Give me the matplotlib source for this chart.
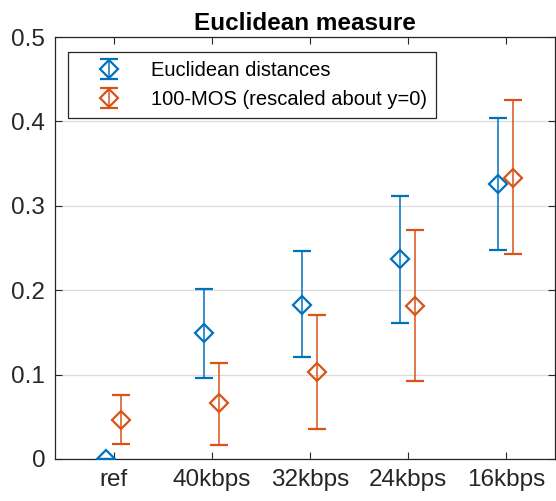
import matplotlib.pyplot as plt
import numpy as np

plt.rcParams['font.family'] = ['Liberation Sans', 'DejaVu Sans']

labels = ['ref', '40kbps', '32kbps', '24kbps', '16kbps']

eucl_mean = [0.0, 0.149, 0.182, 0.237, 0.326]
eucl_low = [0.0, 0.096, 0.121, 0.161, 0.248]
eucl_high = [0.0, 0.201, 0.246, 0.312, 0.404]

mos_mean = [0.046, 0.066, 0.103, 0.181, 0.333]
mos_low = [0.018, 0.017, 0.036, 0.092, 0.243]
mos_high = [0.076, 0.114, 0.170, 0.271, 0.425]

blue = '#0072BD'
orange = '#D95319'
axcol = '#262626'

x = np.arange(1, len(labels) + 1)

fig = plt.figure(figsize=(5.56, 5.01), dpi=100)
ax = fig.add_axes([0.099, 0.084, 0.899, 0.842])

def draw(xs, mean, low, high, color, label):
    mean = np.array(mean)
    err = [mean - np.array(low), np.array(high) - mean]
    return ax.errorbar(xs, mean, yerr=err, fmt='D', color=color, mfc='none',
                       mec=color, mew=1.6, ms=9, elinewidth=1.1, capsize=6.5,
                       capthick=1.6, label=label, zorder=3)

draw(x - 0.08, eucl_mean, eucl_low, eucl_high, blue, 'Euclidean distances')
draw(x + 0.07, mos_mean, mos_low, mos_high, orange, '100-MOS (rescaled about y=0)')

ax.set_xlim(0.4, 5.5)
ax.set_ylim(0, 0.5)
ax.set_xticks(x)
ax.set_xticklabels(labels)
ax.set_yticks([0, 0.1, 0.2, 0.3, 0.4, 0.5])
ax.set_yticklabels(['0', '0.1', '0.2', '0.3', '0.4', '0.5'])
ax.yaxis.grid(True, color='#dcdcdc', linewidth=0.9)
ax.set_axisbelow(True)
ax.tick_params(direction='in', top=True, right=True, length=5, width=0.8,
               colors=axcol, labelsize=17.5, pad=7)
for s in ax.spines.values():
    s.set_color(axcol)
    s.set_linewidth(0.9)

ax.set_title('Euclidean measure', fontsize=17.5, fontweight='bold', pad=5)

leg = ax.legend(loc='upper left', bbox_to_anchor=(0.026, 0.964), borderaxespad=0,
                fontsize=14.5, fancybox=False, edgecolor=axcol, framealpha=1,
                handlelength=3.2, handletextpad=0.45, borderpad=0.45, labelspacing=0.5)
leg.get_frame().set_linewidth(0.9)

fig.savefig('out.png', dpi=100)
